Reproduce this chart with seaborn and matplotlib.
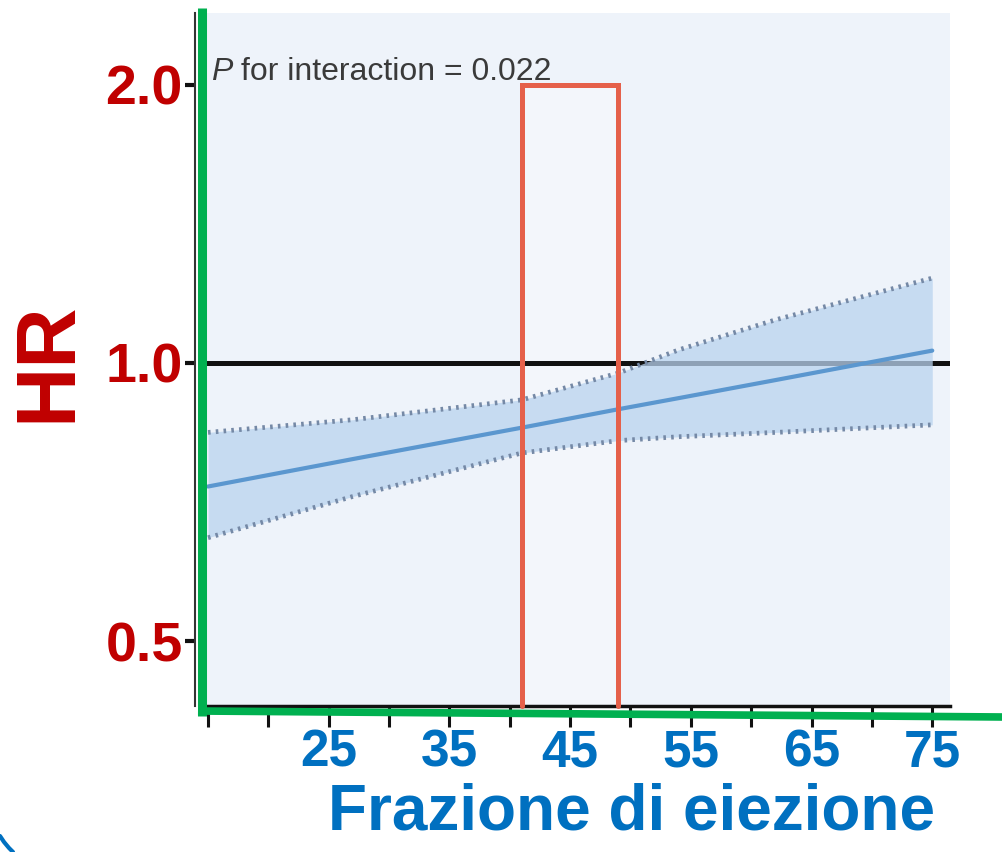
import matplotlib
matplotlib.use("Agg")
import matplotlib.pyplot as plt
import seaborn as sns
import pandas as pd
from matplotlib.lines import Line2D
from matplotlib import font_manager

# valori (HR su scala log)
ef = [15, 27, 41, 49, 54, 62, 75]
hr = [0.735, 0.787, 0.851, 0.891, 0.916, 0.958, 1.031]
hr_upper = [0.841, 0.868, 0.912, 0.975, 1.033, 1.113, 1.235]
hr_lower = [0.647, 0.717, 0.799, 0.824, 0.832, 0.841, 0.857]

xticks = [15, 20, 25, 30, 35, 40, 45, 50, 55, 60, 65, 70, 75]
xtick_labels = ["", "", "25", "", "35", "", "45", "", "55", "", "65", "", "75"]
yticks = [0.5, 1.0, 2.0]
ytick_labels = ["0.5", "1.0", "2.0"]
box_ef = (41, 49)
box_top = 2.0
p_label = "P"
p_text = " for interaction = 0.022"

df = pd.DataFrame({"ef": ef, "hr": hr, "upper": hr_upper, "lower": hr_lower})

sns.set_style("ticks")
plt.rcParams["font.family"] = ["Liberation Sans", "DejaVu Sans"]

names = {f.name for f in font_manager.fontManager.ttflist}
narrow = "Liberation Sans Narrow" if "Liberation Sans Narrow" in names else "Liberation Sans"
p_size = 28 if narrow == "Liberation Sans Narrow" else 23

fig = plt.figure(figsize=(10.03, 8.52), dpi=100)
ax = fig.add_axes([205 / 1003, 1 - 706 / 852, 745 / 1003, 693 / 852])
ax.set_facecolor("#eef3fa")

ax.set_yscale("log")
ax.set_xlim(14.75, 76.47)
ax.set_ylim(0.4255, 2.39)

# spine prima delle etichette (set_position azzera i tick)
sns.despine(ax=ax)
ax.spines["left"].set_position(("outward", 7))
ax.spines["left"].set_color("#333333")
ax.spines["left"].set_linewidth(1.5)
ax.spines["bottom"].set_color("#111111")
ax.spines["bottom"].set_linewidth(2.5)

# linea di riferimento HR = 1
ax.axhline(1.0, color="#111111", lw=3.6, zorder=1)

# riquadro rosso (fondo leggermente più chiaro)
ylo = ax.get_ylim()[0]
ax.fill_between(list(box_ef), ylo, box_top, color="white", alpha=0.3, lw=0, zorder=0.5)

# banda di confidenza
ax.fill_between(df["ef"], df["lower"], df["upper"], color="#b9d3ee", alpha=0.75, lw=0, zorder=2)
sns.lineplot(data=df, x="ef", y="upper", ax=ax, color="#7589a6", lw=3.4,
             linestyle=(0, (0.55, 1.1)), zorder=3)
sns.lineplot(data=df, x="ef", y="lower", ax=ax, color="#7589a6", lw=3.4,
             linestyle=(0, (0.55, 1.1)), zorder=3)
sns.lineplot(data=df, x="ef", y="hr", ax=ax, color="#5b97cf", lw=3, zorder=4)

ax.plot([box_ef[0], box_ef[0], box_ef[1], box_ef[1]], [ylo, box_top, box_top, ylo],
        color="#e5604a", lw=3.6, solid_joinstyle="miter", zorder=5, clip_on=False)

# testo P for interaction
t = ax.text(0.008, 0.903, p_label, transform=ax.transAxes, fontsize=p_size,
            family=narrow, style="italic", color="#3a3a3a", va="baseline", ha="left", zorder=6)
ax.annotate(p_text, xy=(1, 0), xycoords=t, fontsize=p_size, family=narrow,
            color="#3a3a3a", va="bottom", ha="left", zorder=6)

# assi
ax.yaxis.set_minor_locator(matplotlib.ticker.NullLocator())
ax.yaxis.set_minor_formatter(matplotlib.ticker.NullFormatter())
ax.set_xticks(xticks)
ax.set_xticklabels(xtick_labels, fontsize=37, fontweight="bold", color="#0070c0")
ax.set_yticks(yticks)
ax.set_yticklabels(ytick_labels, fontsize=40, fontweight="bold", color="#c00000")

ax.tick_params(axis="x", length=15, width=2.2, color="#111111", pad=1)
ax.tick_params(axis="y", length=7, width=3, color="#111111", pad=2)

ax.set_xlabel("Frazione di eiezione", fontsize=46, fontweight="bold", color="#0070c0")
ax.xaxis.set_label_coords((632 - 205) / 745, (706 - 812) / 693)
ax.xaxis.label.set_va("center")
ax.set_ylabel("HR", fontsize=60, fontweight="bold", color="#c00000")
ax.yaxis.set_label_coords((48 - 205) / 745, (706 - 362) / 693)
ax.yaxis.label.set_va("center")
ax.yaxis.label.set_ha("center")

# linee verdi sovrapposte agli assi
fig.add_artist(Line2D([202 / 1003, 202 / 1003], [1 - 8 / 852, 1 - 716 / 852],
                      transform=fig.transFigure, color="#00b050", lw=6.5,
                      solid_capstyle="butt", zorder=10))
fig.add_artist(Line2D([198 / 1003, 1.0], [1 - 711 / 852, 1 - 717 / 852],
                      transform=fig.transFigure, color="#00b050", lw=5.5,
                      solid_capstyle="butt", zorder=10))
# piccolo arco blu in basso a sinistra
fig.add_artist(Line2D([0, 4 / 1003, 9 / 1003, 13 / 1003],
                      [1 - 836 / 852, 1 - 842 / 852, 1 - 848 / 852, 1 - 852 / 852],
                      transform=fig.transFigure, color="#0070c0", lw=3, zorder=10))

fig.savefig("out.png", dpi=100)
